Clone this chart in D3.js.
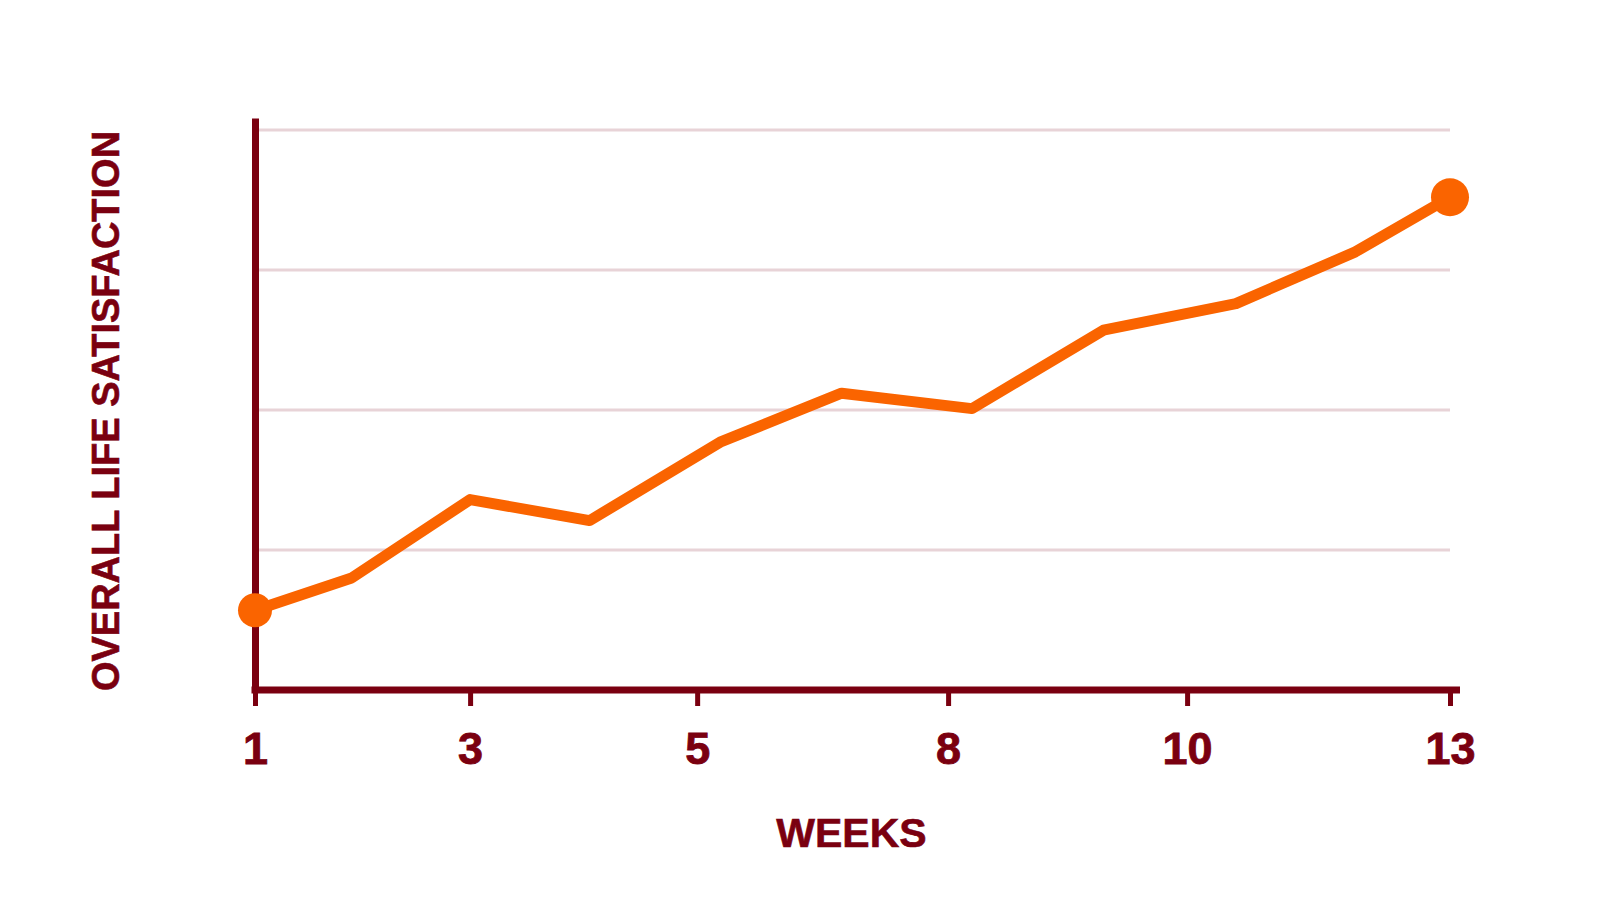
<!DOCTYPE html>
<html>
<head>
<meta charset="utf-8">
<script src="https://cdn.jsdelivr.net/npm/d3@7"></script>
<style>
  body { margin: 0; background: #fff; }
  text { font-family: "Liberation Sans", Arial, sans-serif; font-weight: bold; }
</style>
</head>
<body>
<svg id="chart" width="1600" height="900"></svg>
<script>
// weeks (x position along the timeline) and satisfaction score per check-in
var weeks = [1, 1.97, 3.16, 4.36, 5.67, 6.89, 8.2, 9.52, 10.85, 12.05, 13];
var satisfaction = [0.57, 0.8, 1.36, 1.21, 1.77, 2.12, 2.01, 2.57, 2.76, 3.13, 3.52];

// tick positions on the week axis and the labels shown under them
var tickWeeks = [1, 3.16, 5.44, 7.96, 10.36, 13];
var tickLabels = ["1", "3", "5", "8", "10", "13"];

// horizontal guide lines (no labels on the y axis)
var gridValues = [1, 2, 3, 4];
var yMax = 4.086;

var maroon = "#7a0010",
    orange = "#fa6400",
    gridColor = "#e8d3d7";

var svg = d3.select("#chart"),
    margin = {top: 118, right: 150, bottom: 210, left: 255},
    width = +svg.attr("width") - margin.left - margin.right,
    height = +svg.attr("height") - margin.top - margin.bottom,
    g = svg.append("g").attr("transform", "translate(" + margin.left + "," + margin.top + ")");

var x = d3.scaleLinear().domain([1, 13]).range([0, width]),
    y = d3.scaleLinear().domain([0, yMax]).range([height, 0]);

// grid
g.append("g")
    .attr("class", "grid")
  .selectAll("line")
  .data(gridValues)
  .enter().append("line")
    .attr("x1", x(1) + 4)
    .attr("x2", x(13))
    .attr("y1", function(d) { return y(d); })
    .attr("y2", function(d) { return y(d); })
    .attr("stroke", gridColor)
    .attr("stroke-width", 3);

// y axis: line only
var yAxis = g.append("g")
    .attr("class", "axis axis--y")
    .call(d3.axisLeft(y).tickValues([]).tickSizeOuter(0));
yAxis.select(".domain")
    .attr("stroke", maroon)
    .attr("stroke-width", 7);

// x axis
var xAxis = g.append("g")
    .attr("class", "axis axis--x")
    .attr("transform", "translate(0," + height + ")")
    .call(d3.axisBottom(x)
      .tickValues(tickWeeks)
      .tickFormat(function(d, i) { return tickLabels[i]; })
      .tickSize(16)
      .tickSizeOuter(0));

xAxis.select(".domain")
    .attr("d", "M" + (x.range()[0] - 3.5) + ",0H" + (x.range()[1] + 10))
    .attr("stroke", maroon)
    .attr("stroke-width", 7);

xAxis.selectAll(".tick line")
    .attr("stroke", maroon)
    .attr("stroke-width", 5);

xAxis.selectAll(".tick text")
    .attr("y", 42)
    .attr("fill", maroon)
    .attr("stroke", maroon)
    .attr("stroke-width", 0.8)
    .style("font-size", "45px")
    .style("font-family", "'Liberation Sans', Arial, sans-serif")
    .style("font-weight", "bold");

// axis titles
g.append("text")
    .attr("x", width / 2 - 1)
    .attr("y", height + 157)
    .attr("text-anchor", "middle")
    .style("font-size", "41px")
    .attr("fill", maroon)
    .attr("stroke", maroon)
    .attr("stroke-width", 0.6)
    .text("WEEKS");

g.append("text")
    .attr("transform", "translate(" + (-136) + "," + (height / 2 + 7) + ") rotate(-90)")
    .attr("text-anchor", "middle")
    .style("font-size", "38px")
    .attr("fill", maroon)
    .attr("stroke", maroon)
    .attr("stroke-width", 0.6)
    .text("OVERALL LIFE SATISFACTION");

// line
var pts = weeks.map(function(w, i) { return {week: w, value: satisfaction[i]}; });

var line = d3.line()
    .x(function(d) { return x(d.week); })
    .y(function(d) { return y(d.value); });

g.append("path")
    .datum(pts)
    .attr("fill", "none")
    .attr("stroke", orange)
    .attr("stroke-width", 11)
    .attr("stroke-linejoin", "round")
    .attr("d", line);

// end points
g.selectAll(".dot")
    .data([pts[0], pts[pts.length - 1]])
  .enter().append("circle")
    .attr("class", "dot")
    .attr("cx", function(d) { return x(d.week); })
    .attr("cy", function(d) { return y(d.value); })
    .attr("r", function(d, i) { return i === 0 ? 17 : 19; })
    .attr("fill", orange);
</script>
</body>
</html>
